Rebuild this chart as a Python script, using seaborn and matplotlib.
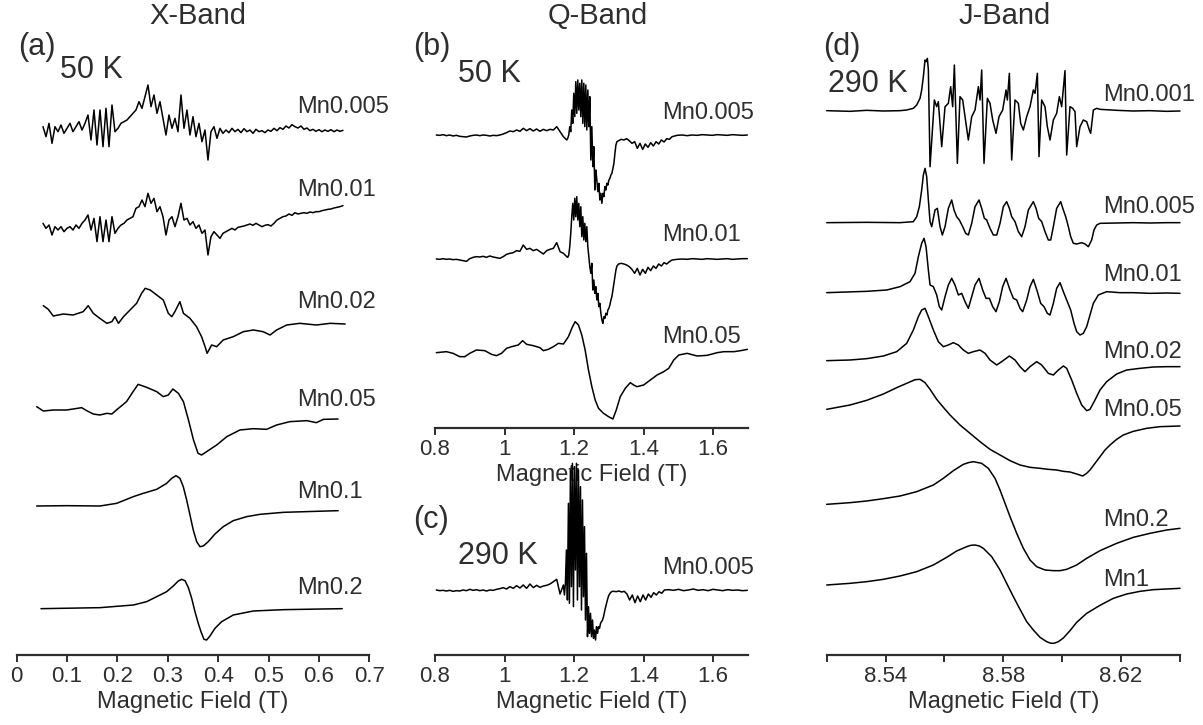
import numpy as np
import pandas as pd
import matplotlib
matplotlib.use("Agg")
import matplotlib.pyplot as plt
import seaborn as sns

# ---------------- X-band (50 K) ----------------
X_TICKS = [0, 0.1, 0.2, 0.3, 0.4, 0.5, 0.6, 0.7]
X_TICKLABELS = ["0", "0.1", "0.2", "0.3", "0.4", "0.5", "0.6", "0.7"]
X_LABELS = ["Mn0.005", "Mn0.01", "Mn0.02", "Mn0.05", "Mn0.1", "Mn0.2"]

X_GRID_START, X_GRID_END, X_GRID_N = 0.0522, 0.6477, 101
X_MN0005 = [10, -20, 20, -40, 10, -5, 15, -10, 5, 20,
            -5, 10, 25, 0, 20, 45, -30, 60, -45, 60,
            -50, 65, -50, 75, -5, 5, 20, 25, 30, 40,
            50, 60, 85, 65, 100, 135, 70, 105, 50, 85,
            35, -15, 45, 5, 35, -5, 105, 5, 60, -15,
            40, -20, 20, -35, 0, -90, -5, 10, -25, 5,
            -10, 0, -8, 5, -5, 2, -8, 4, -5, 0,
            -10, 2, -5, -2, -8, 0, -4, 5, -2, 7,
            2, 12, 6, 16, 10, 6, 12, 2, 6, -2,
            2, -4, 1, -5, 0, -4, 1, -5, 0, -4, -1]
X_MN001 = [5, -10, 0, -30, -5, -15, -5, -20, -10, -5,
           -15, 0, -10, 5, 15, 30, -15, 20, -50, 25,
           -50, 15, -50, 25, -25, -10, 0, 5, 15, 20,
           25, 50, 55, 75, 55, 95, 65, 80, 40, 55,
           25, -30, 15, 25, -5, 25, 65, 15, 20, 0,
           10, -10, 0, -25, -15, -90, -35, -20, -30, -40,
           -25, -20, -15, -10, -15, -7, -5, -3, 0, 3,
           -1, 5, 0, -5, -1, 1, -3, 5, 15, 20,
           25, 27, 33, 29, 37, 33, 35, 37, 35, 39,
           37, 40, 40, 43, 45, 47, 48, 51, 53, 55, 58]
X_MN002_B = [0.0528, 0.0627, 0.0726, 0.0925, 0.112, 0.132, 0.142, 0.152, 0.165, 0.179,
             0.189, 0.195, 0.202, 0.212, 0.225, 0.238, 0.248, 0.255, 0.265, 0.278,
             0.291, 0.301, 0.308, 0.314, 0.324, 0.331, 0.344, 0.357, 0.367, 0.374,
             0.378, 0.387, 0.397, 0.410, 0.430, 0.450, 0.470, 0.489, 0.503, 0.516,
             0.536, 0.562, 0.595, 0.622, 0.652]
X_MN002 = [13, 2, -18, -12, -15, -5, 13, -10, -25, -40,
           -35, -20, -40, -20, 0, 20, 50, 65, 60, 45,
           30, -10, -20, -5, 25, -10, -25, -50, -80, -110,
           -130, -105, -110, -90, -80, -65, -60, -65, -75, -60,
           -45, -40, -45, -40, -42]
X_MN005_B = [0.0397, 0.0528, 0.0726, 0.0992, 0.129, 0.139, 0.152, 0.165, 0.179, 0.189,
             0.198, 0.218, 0.231, 0.241, 0.258, 0.278, 0.291, 0.301, 0.310, 0.321,
             0.331, 0.341, 0.351, 0.360, 0.367, 0.377, 0.397, 0.417, 0.443, 0.470,
             0.496, 0.516, 0.542, 0.576, 0.595, 0.609, 0.638]
X_MN005 = [10, -3, 0, 0, 7, -2, -12, -15, -10, -12,
           0, 25, 55, 77, 68, 55, 40, 45, 63, 50,
           25, -30, -90, -130, -135, -125, -105, -80, -60, -56,
           -58, -45, -35, -32, -38, -28, -27]
X_MN01_B = [0.0397, 0.0992, 0.1653, 0.1985, 0.2314, 0.2513, 0.2779, 0.2977, 0.3077, 0.3162,
            0.3241, 0.3307, 0.3374, 0.3440, 0.3505, 0.3573, 0.3638, 0.3704, 0.3803, 0.3936,
            0.4101, 0.4299, 0.4565, 0.4829, 0.5292, 0.6383]
X_MN01 = [0, 1, 0, 8, 28, 38, 50, 68, 83, 91,
          83, 58, 18, -27, -72, -107, -122, -120, -107, -84,
          -62, -44, -32, -25, -19, -14]
X_MN02_B = [0.0482, 0.1654, 0.2315, 0.2580, 0.2779, 0.2977, 0.3108, 0.3208, 0.3275, 0.3341,
            0.3406, 0.3474, 0.3539, 0.3605, 0.3658, 0.3718, 0.3771, 0.3837, 0.3936, 0.4069,
            0.4299, 0.4696, 0.5292, 0.6463]
X_MN02 = [0, 3, 11, 21, 36, 51, 68, 83, 88, 84,
          64, 31, -9, -44, -69, -92, -94, -82, -59, -39,
          -19, -7, -3, 0]

# ---------------- Q-band ----------------
Q_TICKS = [0.8, 1.0, 1.2, 1.4, 1.6]
Q_TICKLABELS = ["0.8", "1", "1.2", "1.4", "1.6"]
Q_SEGMENTS = [(0.8038, 1.1788, 40), (1.1817, 1.3231, 50), (1.3279, 1.4817, 21), (1.4962, 1.6981, 15)]
Q_MN0005 = [0, -1, 1, -2, 0, -3, -1, -4, -5, -6, -3, -1, 0, -2, 0, -1, -3, -1, -2, 0,
            3, 7, 12, 10, 15, 11, 20, 13, 19, 12, 18, 11, 17, 13, 17, 15, 25, 10, -5, -15,
            -10, 0, 25, 10, 75, 35, 125, 55, 160, 65, 165, 75, 155, 55, 165, 35, 155, 25, 150, 15,
            135, 25, 115, -75, 25, -95, -35, -165, -105, -135, -170, -145, -195, -175, -205, -175,
            -185, -155, -165, -145, -150, -135, -130, -120, -115, -100, -85, -55, -30, -20,
            -17, -13, -15, -11, -17, -25, -20, -40, -25, -43, -27, -37, -23, -33, -20, -27, -15, -21,
            -11, -13, -5,
            -1, 0, -2, 0, -1, 1, 0, -1, 1, 0, -1, 1, 0, -1, 0]
Q_MN001 = [0, -1, 1, -1, 0, -2, -1, -3, -5, -7, 1, 5, 7, 6, 8, 5, 9, 6, 4, 2,
           7, 14, 17, 19, 25, 23, 42, 29, 32, 25, 29, 22, 15, 25, 29, 32, 49, 22, 17, 7,
           5, 12, 37, 77, 127, 167, 117, 182, 127, 187, 117, 167, 97, 157, 67, 127, 57, 107, 52, 97,
           37, 7, -23, -43, -13, -93, -63, -103, -83, -123, -103, -143, -133, -163, -183, -193,
           -173, -178, -163, -168, -153, -148, -138, -123, -113, -93, -73, -53, -33, -21,
           -15, -13, -15, -18, -23, -31, -43, -28, -48, -31, -43, -25, -35, -21, -28, -15, -21,
           -11, -15, -8, -3,
           -1, 0, -1, 1, 0, -1, 1, 0, -1, 0, 1, -1, 0, 1, 1]
Q_MN005_B = [0.8038, 0.8327, 0.8519, 0.8712, 0.8856, 0.9000, 0.9192, 0.9433, 0.9625, 0.9769,
             0.9913, 1.0058, 1.0202, 1.0394, 1.0519, 1.0635, 1.0827, 1.1019, 1.1115, 1.1260,
             1.1404, 1.1548, 1.1692, 1.1837, 1.1933, 1.2029, 1.2125, 1.2221, 1.2317, 1.2413,
             1.2510, 1.2606, 1.2702, 1.2846, 1.2990, 1.3115, 1.3212, 1.3327, 1.3471, 1.3615,
             1.3712, 1.3808, 1.4000, 1.4192, 1.4385, 1.4577, 1.4721, 1.4865, 1.5010, 1.5250,
             1.5538, 1.5827, 1.6115, 1.6308, 1.6596, 1.6788, 1.6981]
Q_MN005 = [0, 3, -2, -12, -12, -2, 8, 6, -5, -9,
           -2, 13, 18, 23, 36, 25, 21, 15, 6, 10,
           18, 28, 26, 48, 73, 93, 83, 53, 8, -52,
           -102, -142, -167, -182, -192, -199, -172, -132, -107, -90,
           -97, -102, -97, -82, -67, -57, -47, -22, -7, -2,
           -10, -8, 0, 3, 3, 6, 10]
C_SEGMENTS = [(0.8038, 1.1692, 39), (1.1721, 1.3135, 50), (1.3212, 1.4596, 19), (1.4721, 1.6981, 17)]
C_MN0005 = [0, -2, -1, -3, -1, -4, -2, -3, 0, -2, 2, -1, 1, -2, 0, -3, 0, -1, 2, 4,
            7, 3, 10, 5, 13, 6, 15, 5, 18, 7, 14, 8, 12, 14, 18, 25, 32, -12, 15,
            -15, 20, 120, -30, 260, -40, 360, 10, 380, -50, 370, 60, 380, -30, 360, 10, 310, -60, 270, -20,
            190, -90, 110, -140, -50, -130, -70, -140, -90, -145, -120, -150, -110, -130, -110, -115,
            -100, -95, -90, -80, -65, -52, -40, -28, -18, -12, -8, -5, -4, -4,
            -5, -3, -6, -4, -12, -30, -15, -38, -18, -35, -15, -30, -12, -22, -8, -15, -5, -10, 0,
            1, -1, 2, -2, 0, 3, -1, 1, -2, 2, 0, -2, 1, -1, 0, -2, -1]

# ---------------- J-band (290 K) ----------------
J_TICKS = [8.52, 8.54, 8.56, 8.58, 8.60, 8.62, 8.64]
J_TICKLABELS = ["", "8.54", "", "8.58", "", "8.62", ""]
J_MN0001_B = [8.52000, 8.52792, 8.53358, 8.53925, 8.54491, 8.54717, 8.54943, 8.55057, 8.55170, 8.55226,
              8.55283, 8.55340, 8.55374, 8.55419, 8.55453, 8.55510, 8.55657, 8.55736, 8.55792, 8.55906,
              8.56019, 8.56132, 8.56211, 8.56279, 8.56336, 8.56438, 8.56528, 8.56619, 8.56698, 8.56811,
              8.56925, 8.57038, 8.57151, 8.57208, 8.57264, 8.57343, 8.57457, 8.57547, 8.57638, 8.57751,
              8.57853, 8.57977, 8.58091, 8.58136, 8.58204, 8.58283, 8.58396, 8.58510, 8.58589, 8.58679,
              8.58793, 8.58906, 8.59019, 8.59076, 8.59155, 8.59211, 8.59302, 8.59415, 8.59494, 8.59585,
              8.59698, 8.59811, 8.59902, 8.59981, 8.60094, 8.60151, 8.60264, 8.60355, 8.60434, 8.60491,
              8.60604, 8.60717, 8.60830, 8.60921, 8.60966, 8.61057, 8.61170, 8.61283, 8.61849, 8.62415,
              8.62981, 8.63547, 8.64000]
J_MN0001 = [0, -2, 1, -1, 0, 2, 7, 17, 37, 62,
            102, 152, 147, 157, 122, -168, 32, 12, 27, -108,
            12, 22, 72, 12, 137, -158, 42, 32, -18, -88,
            -18, 2, 72, 32, 122, -158, 37, 22, -28, -68,
            -18, 2, 62, 32, 112, -148, 32, 22, -38, -58,
            -18, 12, 62, 52, 112, -138, 32, 12, -48, -88,
            -28, -8, 42, 12, 120, -133, 12, 7, -3, -108,
            -48, -28, -33, -58, -68, 2, 7, 4, 1, -1,
            0, -2, -1]
J_MN0005_B = [8.52000, 8.53358, 8.54491, 8.54943, 8.55057, 8.55147, 8.55226, 8.55283, 8.55340, 8.55396,
              8.55453, 8.55510, 8.55566, 8.55679, 8.55759, 8.55849, 8.55928, 8.56019, 8.56132, 8.56245,
              8.56325, 8.56415, 8.56506, 8.56619, 8.56721, 8.56811, 8.56925, 8.57038, 8.57174, 8.57264,
              8.57355, 8.57434, 8.57547, 8.57660, 8.57774, 8.57887, 8.58000, 8.58113, 8.58204, 8.58283,
              8.58396, 8.58510, 8.58623, 8.58736, 8.58849, 8.59019, 8.59110, 8.59200, 8.59302, 8.59415,
              8.59528, 8.59608, 8.59698, 8.59811, 8.59947, 8.60038, 8.60117, 8.60208, 8.60287, 8.60378,
              8.60491, 8.60661, 8.60774, 8.60887, 8.61000, 8.61079, 8.61170, 8.61283, 8.61849, 8.62415,
              8.62981, 8.63547, 8.64000]
J_MN0005 = [0, 1, 0, 3, 18, 48, 98, 143, 163, 138,
            68, 3, -12, 38, 43, -12, -37, -12, 43, 68,
            38, 18, 8, -12, -32, -37, -2, 48, 68, 43,
            13, 8, -17, -37, -37, -2, 48, 63, 43, 18,
            3, -27, -42, -12, 38, 63, 43, 13, 3, -27,
            -52, -52, -12, 43, 63, 38, 18, -12, -42, -62,
            -64, -60, -64, -72, -52, -22, -7, -2, -1, 0,
            -1, 0, 0]
J_MN001_B = [8.52000, 8.53358, 8.54038, 8.54491, 8.54830, 8.55000, 8.55113, 8.55226, 8.55306, 8.55374,
             8.55453, 8.55510, 8.55623, 8.55736, 8.55826, 8.55906, 8.56019, 8.56132, 8.56245, 8.56358,
             8.56472, 8.56585, 8.56698, 8.56811, 8.56925, 8.57038, 8.57174, 8.57298, 8.57411, 8.57525,
             8.57638, 8.57751, 8.57864, 8.57977, 8.58091, 8.58227, 8.58340, 8.58453, 8.58566, 8.58657,
             8.58793, 8.58906, 8.59019, 8.59155, 8.59268, 8.59381, 8.59494, 8.59585, 8.59698, 8.59811,
             8.59925, 8.60038, 8.60151, 8.60287, 8.60400, 8.60491, 8.60604, 8.60717, 8.60830, 8.60943,
             8.61057, 8.61226, 8.61509, 8.61962, 8.62415, 8.62981, 8.63547, 8.64000]
J_MN001 = [-3, 1, 5, 15, 30, 55, 105, 145, 160, 135,
           65, 20, 15, -10, -45, -55, -15, 20, 40, 20,
           -10, -5, -30, -50, -15, 20, 40, 5, -20, -20,
           -45, -60, -30, 15, 40, 5, -20, -25, -50, -60,
           -25, 15, 37, 0, -35, -45, -65, -70, -35, 10,
           27, 0, -25, -55, -95, -120, -130, -125, -105, -70,
           -35, -10, 0, -3, -3, -5, -4, -5]
J_MN002_B = [8.52000, 8.52792, 8.53358, 8.53925, 8.54377, 8.54717, 8.54943, 8.55113, 8.55226, 8.55340,
             8.55453, 8.55623, 8.55792, 8.55962, 8.56132, 8.56302, 8.56472, 8.56642, 8.56811, 8.56981,
             8.57208, 8.57377, 8.57547, 8.57774, 8.57943, 8.58204, 8.58396, 8.58566, 8.58736, 8.58906,
             8.59132, 8.59302, 8.59528, 8.59698, 8.59868, 8.60038, 8.60151, 8.60321, 8.60491, 8.60661,
             8.60830, 8.60943, 8.61113, 8.61283, 8.61509, 8.61849, 8.62189, 8.62642, 8.63094, 8.63547,
             8.64000]
J_MN002 = [-2, 0, 4, 12, 25, 50, 90, 130, 150, 155,
           130, 90, 55, 40, 45, 52, 45, 30, 20, 25,
           30, 20, 0, -15, -5, 12, 0, -20, -35, -20,
           -5, -15, -40, -45, -30, -18, -25, -60, -100, -135,
           -152, -148, -120, -90, -65, -42, -30, -25, -21, -20,
           -20]
J_MN005_B = [8.52000, 8.52792, 8.53358, 8.53925, 8.54377, 8.54717, 8.55000, 8.55170, 8.55340, 8.55510,
             8.55736, 8.55962, 8.56189, 8.56528, 8.56868, 8.57208, 8.57547, 8.57887, 8.58227, 8.58566,
             8.58906, 8.59245, 8.59528, 8.59811, 8.60038, 8.60264, 8.60491, 8.60694, 8.60830, 8.60943,
             8.61113, 8.61283, 8.61453, 8.61623, 8.61849, 8.62075, 8.62415, 8.62868, 8.63321, 8.64000]
J_MN005 = [0, 13, 27, 46, 65, 78, 89, 90, 80, 60,
           30, 6, -17, -47, -72, -97, -120, -137, -154, -167,
           -174, -177, -180, -182, -186, -188, -194, -200, -192, -182,
           -162, -142, -122, -107, -90, -77, -66, -57, -52, -50]
J_MN02_B = [8.52000, 8.52792, 8.53358, 8.53925, 8.54491, 8.55057, 8.55623, 8.55962, 8.56302, 8.56642,
            8.56811, 8.56981, 8.57264, 8.57491, 8.57717, 8.57887, 8.58057, 8.58227, 8.58453, 8.58679,
            8.58906, 8.59132, 8.59415, 8.59698, 8.59925, 8.60151, 8.60491, 8.60830, 8.61283, 8.61849,
            8.62415, 8.62981, 8.63547, 8.64000]
J_MN02 = [0, 5, 10, 17, 25, 38, 58, 78, 101, 120,
          125, 128, 123, 108, 78, 43, 3, -37, -87, -132,
          -167, -187, -197, -199, -199, -195, -182, -162, -139, -117,
          -99, -87, -77, -72]
J_MN1_B = [8.52000, 8.52792, 8.53358, 8.53925, 8.54491, 8.55057, 8.55623, 8.56075, 8.56415, 8.56755,
           8.56891, 8.57038, 8.57185, 8.57321, 8.57604, 8.57887, 8.58113, 8.58340, 8.58566, 8.58793,
           8.59019, 8.59245, 8.59472, 8.59585, 8.59664, 8.59755, 8.59868, 8.60038, 8.60264, 8.60491,
           8.60830, 8.61283, 8.61736, 8.62189, 8.62642, 8.63094, 8.63547, 8.64000]
J_MN1 = [0, 5, 10, 17, 27, 40, 60, 83, 102, 115,
         119, 120, 117, 110, 85, 45, 5, -35, -73, -110,
         -135, -157, -170, -174, -175, -174, -170, -159, -137, -112,
         -85, -61, -40, -27, -19, -14, -12, -10]

# ---------------- drawing ----------------
sns.set_theme(style="white")
plt.rcParams["font.family"] = ["Liberation Sans", "DejaVu Sans"]
TXT = "#2e2e2e"
LW = 1.1

W, H = 1203, 725
fig = plt.figure(figsize=(W / 100, H / 100), dpi=100)


def panel(left, right, spine, top, xlim, ticks, ticklabels):
    ax = fig.add_axes([left / W, (H - spine) / H, (right - left) / W, (spine - top) / H])
    ax.patch.set_alpha(0)
    ax.set_xlim(*xlim)
    ax.set_ylim(0, (spine - top) * 3)
    for s in ["left", "right", "top"]:
        ax.spines[s].set_visible(False)
    ax.spines["bottom"].set_linewidth(1.6)
    ax.spines["bottom"].set_color(TXT)
    ax.set_yticks([])
    ax.set_xticks(ticks)
    ax.set_xticklabels(ticklabels)
    ax.tick_params(axis="x", direction="out", length=5, width=1.4, labelsize=16,
                   pad=3, colors=TXT, bottom=True)
    return ax


def finish(ax):
    ax.set_xlabel("Magnetic Field (T)", fontsize=17, labelpad=3, color=TXT)
    ax.set_ylabel("")


def curve(ax, field, sig, offset):
    df = pd.DataFrame({"B": np.asarray(field, float), "I": np.asarray(sig, float) + offset})
    sns.lineplot(data=df, x="B", y="I", ax=ax, color="black", lw=LW, sort=False,
                 estimator=None, clip_on=False)


def segs(spec):
    return np.concatenate([np.linspace(a, b, n) for a, b, n in spec])


# (a) X band
axa = panel(16.7, 369.3, 655, 35, (0, 0.7), X_TICKS, X_TICKLABELS)
xg = np.linspace(X_GRID_START, X_GRID_END, X_GRID_N)
curve(axa, xg, X_MN0005, 1575)
curve(axa, xg, X_MN001, 1290)
curve(axa, X_MN002_B, X_MN002, 1035)
curve(axa, X_MN005_B, X_MN005, 735)
curve(axa, X_MN01_B, X_MN01, 447)
curve(axa, X_MN02_B, X_MN02, 139)
for lab, yy in zip(X_LABELS, [1644, 1395, 1060, 765, 490, 200]):
    axa.text(0.556, yy, lab, fontsize=17, va="center", ha="left", color=TXT)
finish(axa)

# (b) Q band 50 K
axb = panel(435, 748, 428, 40, (0.8, 1.7), Q_TICKS, Q_TICKLABELS)
qb = segs(Q_SEGMENTS)
curve(axb, qb, Q_MN0005, 879)
curve(axb, qb, Q_MN001, 507)
curve(axb, Q_MN005_B, Q_MN005, 226)
for lab, yy in zip(["Mn0.005", "Mn0.01", "Mn0.05"], [944, 579, 273]):
    axb.text(1.4538, yy, lab, fontsize=17, va="center", ha="left", color=TXT)
finish(axb)

# (c) Q band 290 K
axc = panel(435, 748, 655, 470, (0.8, 1.7), Q_TICKS, Q_TICKLABELS)
curve(axc, segs(C_SEGMENTS), C_MN0005, 195)
axc.text(1.4538, 260, "Mn0.005", fontsize=17, va="center", ha="left", color=TXT)
finish(axc)

# (d) J band
axd = panel(826.7, 1180, 655, 35, (8.52, 8.64), J_TICKS, J_TICKLABELS)
curve(axd, J_MN0001_B, J_MN0001, 1633)
curve(axd, J_MN0005_B, J_MN0005, 1297)
curve(axd, J_MN001_B, J_MN001, 1090)
curve(axd, J_MN002_B, J_MN002, 885)
curve(axd, J_MN005_B, J_MN005, 737)
curve(axd, J_MN02_B, J_MN02, 452)
curve(axd, J_MN1_B, J_MN1, 210)
for lab, yy in zip(["Mn0.001", "Mn0.005", "Mn0.01", "Mn0.02", "Mn0.05", "Mn0.2", "Mn1"],
                   [1680, 1345, 1140, 910, 735, 405, 225]):
    axd.text(8.6139, yy, lab, fontsize=17, va="center", ha="left", color=TXT)
finish(axd)

# titles and panel annotations
for t, x in [("X-Band", 197.5), ("Q-Band", 598), ("J-Band", 1005)]:
    fig.text(x / W, 1 - 16 / H, t, fontsize=21, ha="center", va="center", color=TXT)
for t, x, y in [("(a)", 18, 47), ("(b)", 413, 47), ("(c)", 413, 520), ("(d)", 823, 47)]:
    fig.text(x / W, 1 - y / H, t, fontsize=22, ha="left", va="center", color=TXT)
for t, x, y in [("50 K", 60, 70), ("50 K", 458, 74), ("290 K", 458, 556), ("290 K", 828, 84)]:
    fig.text(x / W, 1 - y / H, t, fontsize=22, ha="left", va="center", color=TXT)

fig.savefig("out.png", dpi=100)
